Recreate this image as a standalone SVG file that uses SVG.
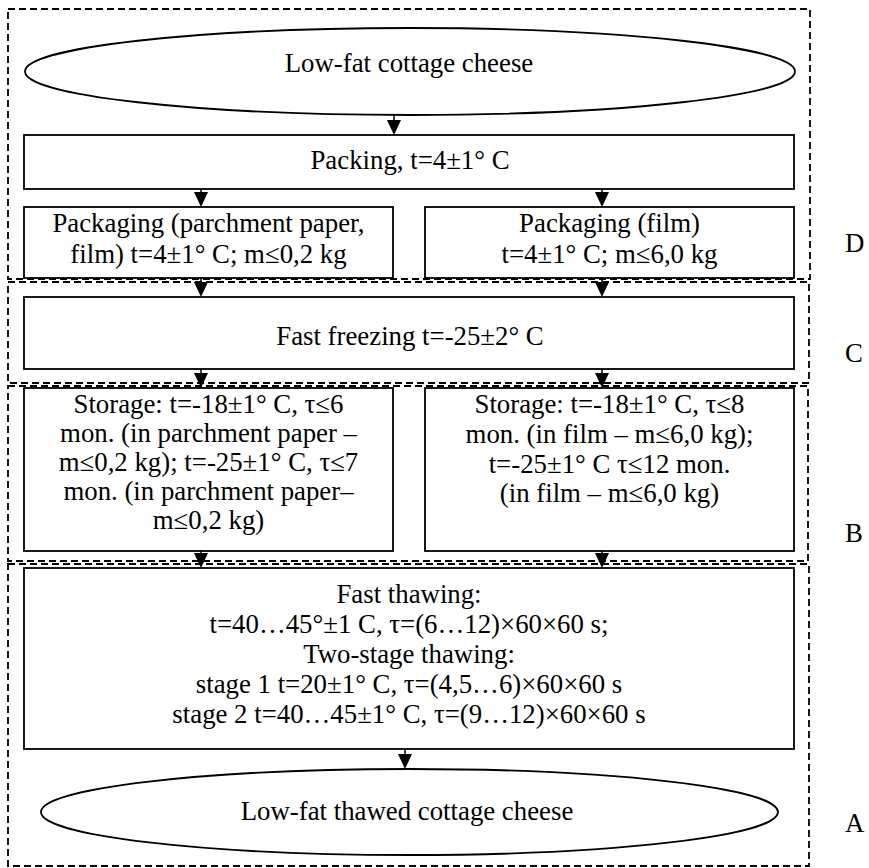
<svg xmlns="http://www.w3.org/2000/svg" width="869" height="868" viewBox="0 0 869 868" font-family="'Liberation Serif', 'DejaVu Serif', serif">
<style>
text{font-family:'Liberation Serif','DejaVu Serif',serif;font-size:26.8px;fill:#000;text-anchor:middle}
.lbl{text-anchor:start}
.box{fill:#fff;stroke:#000;stroke-width:1.8}
.zone{fill:none;stroke:#000;stroke-width:1.8;stroke-dasharray:7 4}
.ln{stroke:#000;stroke-width:1.5;fill:none}
.ah{fill:#000}
</style>
<rect width="869" height="868" fill="#fff"/>
<g id="zones">
<rect class="zone" x="8" y="9" width="802" height="270"/>
<rect class="zone" x="8" y="282" width="801" height="101"/>
<rect class="zone" x="8" y="386" width="800" height="175"/>
<rect class="zone" x="8" y="564" width="801" height="302"/>
</g>
<g id="connectors">
<line class="ln" x1="394" y1="115" x2="394" y2="128"/>
<polygon class="ah" points="387,120 401,120 394,135"/>
<line class="ln" x1="201" y1="189" x2="201" y2="200"/>
<polygon class="ah" points="194,192 208,192 201,207"/>
<line class="ln" x1="602" y1="189" x2="602" y2="200"/>
<polygon class="ah" points="595,192 609,192 602,207"/>
<line class="ln" x1="201" y1="278" x2="201" y2="290"/>
<polygon class="ah" points="194,282 208,282 201,297"/>
<line class="ln" x1="602" y1="278" x2="602" y2="290"/>
<polygon class="ah" points="595,282 609,282 602,297"/>
<line class="ln" x1="201" y1="369" x2="201" y2="381"/>
<polygon class="ah" points="194,373 208,373 201,388"/>
<line class="ln" x1="602" y1="369" x2="602" y2="381"/>
<polygon class="ah" points="595,373 609,373 602,388"/>
<line class="ln" x1="201" y1="551" x2="201" y2="561"/>
<polygon class="ah" points="194,553 208,553 201,568"/>
<line class="ln" x1="602" y1="551" x2="602" y2="561"/>
<polygon class="ah" points="595,553 609,553 602,568"/>
<line class="ln" x1="405" y1="749" x2="405" y2="762"/>
<polygon class="ah" points="398,754 412,754 405,769"/>
</g>
<g id="start">
<ellipse class="box" cx="410" cy="71.5" rx="385" ry="43.5"/>
<text x="409" y="72">Low-fat cottage cheese</text>
</g>
<g id="packing">
<rect class="box" x="24" y="135" width="770" height="54"/>
<text x="410" y="169">Packing, t=4±1° C</text>
</g>
<g id="packaging-parchment">
<rect class="box" x="24" y="207" width="369" height="71"/>
<text x="208.5" y="232">Packaging (parchment paper,</text>
<text x="208.5" y="263">film) t=4±1° C; m≤0,2 kg</text>
</g>
<g id="packaging-film">
<rect class="box" x="425" y="207" width="369" height="71"/>
<text x="609.5" y="232">Packaging (film)</text>
<text x="609.5" y="263">t=4±1° C; m≤6,0 kg</text>
</g>
<g id="freezing">
<rect class="box" x="24" y="297" width="770" height="72"/>
<text x="410" y="345">Fast freezing t=-25±2° C</text>
</g>
<g id="storage-parchment">
<rect class="box" x="24" y="388" width="369" height="163"/>
<text x="208.5" y="413">Storage: t=-18±1° C, τ≤6</text>
<text x="208.5" y="442">mon. (in parchment paper –</text>
<text x="208.5" y="471">m≤0,2 kg); t=-25±1° C, τ≤7</text>
<text x="208.5" y="500">mon. (in parchment paper–</text>
<text x="208.5" y="529">m≤0,2 kg)</text>
</g>
<g id="storage-film">
<rect class="box" x="425" y="388" width="369" height="163"/>
<text x="609.5" y="413">Storage: t=-18±1° C, τ≤8</text>
<text x="609.5" y="443">mon. (in film – m≤6,0 kg);</text>
<text x="609.5" y="473">t=-25±1° C τ≤12 mon.</text>
<text x="609.5" y="502">(in film – m≤6,0 kg)</text>
</g>
<g id="thawing">
<rect class="box" x="24" y="568" width="770" height="181"/>
<text x="409" y="603">Fast thawing:</text>
<text x="409" y="633">t=40…45°±1 C, τ=(6…12)×60×60 s;</text>
<text x="409" y="663">Two-stage thawing:</text>
<text x="409" y="693">stage 1 t=20±1° C, τ=(4,5…6)×60×60 s</text>
<text x="409" y="723">stage 2 t=40…45±1° C, τ=(9…12)×60×60 s</text>
</g>
<g id="end">
<ellipse class="box" cx="409.5" cy="812" rx="368.5" ry="43"/>
<text x="407" y="820">Low-fat thawed cottage cheese</text>
</g>
<g id="zone-labels">
<text class="lbl" x="845" y="252">D</text>
<text class="lbl" x="845" y="362">C</text>
<text class="lbl" x="845" y="542">B</text>
<text class="lbl" x="845" y="832">A</text>
</g>
</svg>
